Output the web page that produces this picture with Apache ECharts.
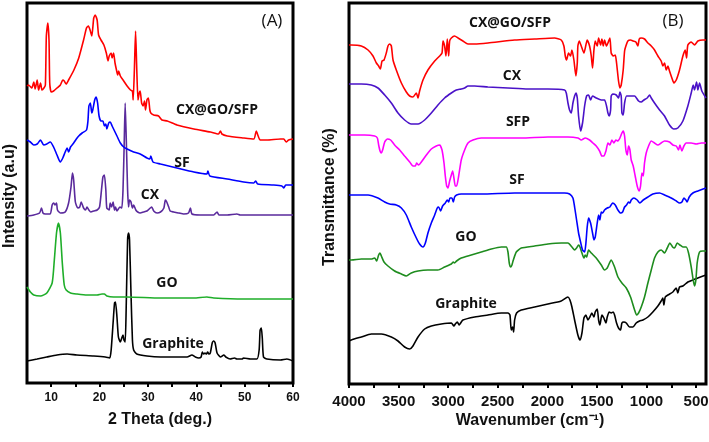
<!DOCTYPE html>
<html>
<head>
<meta charset="utf-8">
<script src="https://cdn.jsdelivr.net/npm/echarts@6/dist/echarts.min.js"></script>
<style>html,body{margin:0;padding:0;background:#fff;}#c{width:709px;height:442px;}</style>
</head>
<body>
<div id="c"></div>
<script>
// ---------- Panel A: XRD (2 theta in deg, intensity in a.u.) ----------
const thetaLabels = [10, 20, 30, 40, 50, 60];
const thetaTicks = [10, 15, 20, 25, 30, 35, 40, 45, 50, 55, 60];

const xrdCXGOSFP = [[5,297],[5.3,298],[6.0,295],[6.4,301],[6.7,294],[7.1,303],[7.4,293],[7.8,300],[8.1,293],[8.5,295],[8.8,298],[9.0,347],[9.3,360],[9.55,343],[9.7,300],[10.0,291],[10.5,292],[11.2,295],[11.9,298],[12.4,303],[12.7,302],[13.1,299],[13.6,303],[14.7,313],[15.7,325],[16.7,343],[17.3,355],[17.7,357],[18.1,352],[18.4,347],[18.8,365],[19.1,368],[19.5,363],[19.8,348],[20.3,343],[20.9,338],[21.4,330],[21.75,322],[22.0,327],[22.4,330],[22.6,325],[22.9,330],[23.2,320],[23.5,313],[23.75,308],[23.95,312],[24.3,307],[25.0,302],[25.7,297],[26.4,293],[26.8,292],[26.95,283],[27.2,313],[27.45,352],[27.7,313],[27.95,283],[28.2,290],[28.4,292],[28.7,280],[29.0,277],[29.3,282],[29.5,273],[29.8,283],[30.1,285],[30.4,273],[30.6,270],[31.2,268],[32.2,267],[32.9,263],[34.0,262],[36.0,258],[39.5,254],[42.9,251],[44.6,249],[45.0,252],[45.3,249],[46.4,247],[49.8,245],[51.9,244],[52.4,252],[52.8,247],[53.2,243],[54.6,243],[57.4,244],[58.1,244],[58.6,241],[59.1,243],[60,244]];

const xrdSF = [[5.0,243],[5.7,241],[6.4,238],[7.1,239],[7.8,243],[8.45,238],[9.1,239],[9.8,241],[10.5,236],[11.2,228],[11.9,221],[12.4,225],[12.9,231],[13.3,235],[13.6,231],[14.0,236],[14.65,240],[15.2,244],[15.7,247],[16.4,250],[17.3,253],[17.6,262],[17.8,277],[18.1,280],[18.4,270],[18.6,273],[19.0,283],[19.3,286],[19.6,280],[19.9,267],[20.3,262],[20.7,262],[21.0,257],[21.3,259],[21.5,254],[21.9,260],[22.2,261],[22.6,257],[23.1,252],[23.6,247],[24.3,240],[25.0,236],[25.7,234],[27.05,231],[28.4,229],[29.8,225],[30.4,224],[30.6,227],[31.05,221],[32.6,219],[36.0,215],[39.5,211],[42.2,209],[42.4,212],[42.8,207],[46.4,204],[49.8,201],[51.9,200],[52.3,202],[52.7,199],[56.0,198],[57.7,197],[58.1,195],[58.5,198],[60,198]];

const xrdCX = [[5.0,167],[6.4,168],[7.6,170],[8.0,175],[8.3,170],[8.8,169],[9.8,169],[10.2,178],[10.5,180],[10.8,178],[11.1,180],[11.3,173],[11.9,170],[12.9,171],[13.6,180],[14.1,196],[14.4,210],[14.65,203],[15.0,181],[15.5,175],[15.9,176],[16.2,181],[16.7,175],[17.1,173],[17.4,176],[17.8,173],[18.2,171],[18.8,172],[19.5,173],[20.0,176],[20.4,193],[20.7,206],[21.0,208],[21.3,193],[21.5,175],[22.0,173],[22.2,180],[22.5,176],[22.8,181],[23.1,173],[23.3,176],[23.6,172],[24.2,176],[24.6,175],[24.85,193],[25.1,240],[25.3,280],[25.6,230],[25.8,193],[26.0,176],[26.2,183],[26.5,181],[26.8,175],[27.05,178],[27.5,173],[27.9,171],[28.4,170],[29.1,171],[29.8,172],[30.5,175],[30.8,176],[31.2,172],[31.9,170],[32.6,171],[33.3,175],[33.6,183],[33.9,181],[34.3,176],[34.6,172],[35.3,171],[36.4,170],[37.4,169],[38.4,170],[38.8,175],[39.1,169],[40.8,168],[43.6,168],[44.3,171],[44.7,168],[46.4,168],[48.4,169],[49.1,168],[51.9,168],[54.6,168],[60,168]];

const xrdGO = [[5.0,96],[5.7,91],[6.4,88],[7.8,87],[9.1,90],[10.2,100],[10.65,123],[11.1,150],[11.5,160],[11.9,150],[12.3,120],[12.7,98],[13.1,93],[14.0,90],[15.3,89],[17.4,88],[19.5,88],[20.5,89],[21.0,89],[21.5,87],[22.9,86],[25.7,86],[32.6,85],[39.5,85],[42.2,86],[43.6,85],[49.8,84],[60,84]];

const xrdGraphite = [[5.0,22],[7.1,24],[9.1,26],[11.2,28],[13.3,29],[15.3,28],[18.8,27],[21.2,26],[22.1,25],[22.4,33],[22.8,60],[23.1,80],[23.3,81],[23.6,66],[23.9,46],[24.3,41],[24.6,45],[24.85,48],[25.05,43],[25.3,41],[25.5,73],[25.8,143],[26.0,150],[26.2,143],[26.5,90],[26.8,43],[27.05,33],[27.7,29],[29.8,27],[32.6,26],[35.3,26],[38.1,26],[39.1,28],[39.8,26],[40.5,25],[41.0,26],[41.25,31],[41.5,29],[41.8,30],[42.1,29],[42.35,31],[42.6,29],[42.9,30],[43.3,40],[43.6,42],[43.9,40],[44.3,30],[45.0,26],[45.7,28],[46.1,26],[47.0,24],[47.9,25],[48.4,24],[49.45,24],[49.8,25],[51.2,24],[52.55,24],[53.0,33],[53.2,53],[53.45,55],[53.65,45],[53.9,26],[54.6,24],[57.4,23],[58.75,24],[60,22]];

// ---------- Panel B: FTIR (wavenumber in cm-1, transmittance offset a.u.) ----------
const waveLabels = [4000, 3500, 3000, 2500, 2000, 1500, 1000, 500];
const waveTicks = [4000, 3750, 3500, 3250, 3000, 2750, 2500, 2250, 2000, 1750, 1500, 1250, 1000, 750, 500];

const ftirCXGOSFP = [[4000,339],[3976,339],[3876,338],[3808,334],[3758,328],[3724,321],[3701,318],[3684,315],[3667,323],[3647,324],[3624,331],[3607,338],[3590,340],[3573,338],[3556,324],[3523,314],[3472,301],[3422,292],[3388,288],[3355,287],[3321,291],[3304,286],[3288,293],[3254,304],[3204,314],[3136,323],[3086,328],[3062,331],[3052,343],[3036,338],[3022,328],[3009,345],[2995,328],[2985,343],[2968,346],[2935,348],[2901,346],[2851,343],[2800,340],[2733,340],[2599,341],[2330,344],[2128,345],[1927,346],[1860,344],[1833,338],[1819,328],[1806,324],[1786,331],[1766,328],[1752,334],[1732,324],[1712,308],[1698,321],[1692,338],[1678,343],[1658,338],[1631,331],[1611,339],[1598,344],[1574,338],[1557,328],[1544,316],[1530,334],[1517,343],[1497,338],[1483,346],[1463,339],[1450,345],[1436,338],[1423,344],[1403,338],[1389,341],[1369,346],[1356,331],[1335,328],[1315,329],[1302,321],[1282,303],[1268,296],[1255,299],[1235,314],[1221,333],[1208,338],[1188,343],[1161,344],[1134,343],[1107,342],[1087,338],[1073,345],[1053,346],[1020,345],[986,341],[952,338],[919,334],[885,328],[852,323],[835,318],[818,321],[801,314],[784,318],[768,313],[744,306],[724,301],[700,304],[667,314],[633,328],[610,334],[596,326],[583,339],[549,342],[516,339],[482,343],[432,344],[400,344]];

const ftirCX = [[4000,300],[3976,300],[3876,300],[3775,299],[3708,296],[3640,289],[3573,281],[3506,271],[3439,264],[3372,260],[3304,260],[3237,264],[3170,271],[3103,279],[3036,286],[2968,291],[2918,294],[2868,295],[2834,296],[2800,298],[2733,298],[2599,297],[2397,296],[2196,295],[1994,295],[1826,294],[1809,291],[1792,281],[1776,274],[1759,271],[1742,281],[1725,288],[1712,291],[1698,286],[1685,268],[1665,253],[1645,261],[1624,278],[1604,288],[1584,289],[1564,284],[1544,288],[1507,286],[1456,284],[1423,284],[1403,278],[1389,271],[1376,268],[1362,274],[1356,288],[1339,290],[1305,289],[1282,286],[1268,292],[1255,288],[1248,271],[1235,269],[1221,281],[1201,288],[1171,288],[1120,288],[1080,283],[1053,282],[1026,284],[993,286],[969,289],[952,286],[919,281],[868,274],[818,268],[768,259],[724,255],[684,256],[633,263],[583,278],[549,291],[529,299],[516,294],[495,302],[482,294],[465,301],[442,293],[400,286]];

const ftirSFP = [[4000,249],[3976,249],[3842,249],[3741,248],[3714,246],[3701,239],[3687,233],[3674,231],[3661,234],[3640,242],[3614,245],[3580,244],[3540,239],[3489,234],[3439,228],[3388,222],[3355,218],[3331,218],[3318,221],[3298,219],[3271,222],[3220,229],[3170,235],[3120,238],[3086,239],[3062,234],[3042,221],[3029,208],[3015,198],[3002,196],[2985,203],[2968,209],[2955,213],[2942,206],[2928,198],[2915,198],[2894,208],[2868,224],[2834,234],[2800,241],[2750,244],[2666,246],[2498,246],[2263,246],[1994,247],[1792,247],[1692,246],[1658,244],[1618,246],[1574,244],[1540,241],[1507,238],[1473,233],[1450,228],[1430,228],[1409,233],[1389,241],[1369,239],[1349,244],[1329,241],[1309,244],[1288,243],[1268,246],[1248,251],[1235,253],[1221,248],[1208,234],[1194,229],[1181,238],[1167,234],[1154,224],[1134,218],[1114,208],[1094,198],[1073,193],[1060,198],[1046,211],[1033,208],[1020,221],[1003,231],[979,238],[952,243],[919,241],[885,239],[852,241],[818,243],[768,242],[734,239],[700,238],[677,234],[663,239],[643,233],[623,238],[600,241],[549,241],[499,240],[448,241],[400,241]];

const ftirSF = [[4000,189],[3976,189],[3808,189],[3708,186],[3640,182],[3590,180],[3523,179],[3472,176],[3422,169],[3372,157],[3321,146],[3288,140],[3254,137],[3230,141],[3204,151],[3170,161],[3136,169],[3110,176],[3096,177],[3076,173],[3056,178],[3029,181],[3009,184],[2995,182],[2982,186],[2962,186],[2948,182],[2935,187],[2915,189],[2868,190],[2666,190],[2330,191],[1994,191],[1826,191],[1776,190],[1742,186],[1725,177],[1705,164],[1685,151],[1665,142],[1645,134],[1624,132],[1611,141],[1598,157],[1584,166],[1564,161],[1544,151],[1530,144],[1517,147],[1497,161],[1483,169],[1470,164],[1456,172],[1443,171],[1423,174],[1396,176],[1369,177],[1342,181],[1315,179],[1288,174],[1262,171],[1241,172],[1221,177],[1201,179],[1181,182],[1167,181],[1154,184],[1127,186],[1094,184],[1067,181],[1033,184],[986,187],[936,190],[868,191],[818,189],[751,186],[700,183],[667,181],[643,182],[623,186],[603,184],[590,182],[569,187],[532,191],[482,193],[400,196]];

const ftirGO = [[4000,124],[3976,124],[3876,125],[3775,125],[3741,126],[3721,123],[3701,129],[3687,131],[3674,128],[3647,122],[3607,118],[3540,113],[3472,110],[3422,108],[3372,111],[3304,113],[3204,114],[3103,114],[3036,117],[2968,120],[2948,122],[2935,121],[2915,123],[2868,126],[2767,129],[2666,132],[2565,135],[2464,137],[2414,137],[2397,132],[2384,121],[2370,117],[2357,119],[2343,124],[2313,132],[2263,136],[2128,138],[1994,140],[1860,141],[1792,141],[1752,137],[1725,134],[1705,136],[1685,139],[1671,137],[1651,131],[1631,126],[1618,129],[1604,127],[1584,134],[1557,131],[1507,126],[1456,119],[1423,114],[1396,116],[1356,124],[1322,117],[1288,107],[1248,101],[1204,96],[1161,87],[1120,74],[1100,69],[1080,71],[1053,77],[1020,87],[986,101],[952,114],[919,126],[885,132],[852,134],[818,131],[791,136],[764,141],[737,137],[717,136],[690,141],[663,139],[633,137],[600,137],[576,131],[549,117],[529,104],[516,98],[502,104],[489,121],[465,132],[432,133],[400,133]];

const ftirGraphite = [[4000,43],[3976,44],[3876,47],[3775,50],[3674,50],[3573,47],[3506,43],[3439,37],[3388,35],[3355,38],[3304,47],[3237,55],[3170,58],[3069,60],[2968,61],[2942,58],[2928,60],[2908,62],[2888,59],[2874,61],[2851,64],[2733,67],[2599,69],[2464,71],[2397,71],[2377,69],[2364,54],[2350,57],[2340,52],[2330,64],[2310,71],[2263,74],[2128,77],[1994,80],[1860,83],[1792,87],[1772,84],[1752,77],[1725,64],[1692,49],[1671,44],[1651,51],[1631,66],[1611,69],[1591,64],[1571,67],[1551,71],[1530,67],[1517,72],[1497,75],[1483,64],[1470,59],[1450,69],[1430,66],[1409,61],[1396,67],[1376,72],[1356,71],[1335,72],[1322,69],[1302,61],[1282,56],[1262,54],[1248,61],[1228,62],[1204,61],[1171,57],[1137,57],[1104,61],[1070,63],[1036,64],[986,67],[936,72],[885,78],[852,83],[835,86],[825,79],[811,87],[784,89],[734,92],[700,96],[684,91],[667,97],[633,98],[583,102],[532,104],[482,106],[400,109]];

// ---------- chart ----------
const chart = echarts.init(document.getElementById('c'), null, {renderer: 'canvas'});

function line(data, color, gi, width) {
  return {
    type: 'line', data: data, xAxisIndex: gi, yAxisIndex: gi,
    showSymbol: false, symbol: 'none', smooth: 0.2,
    lineStyle: {color: color, width: width || 1.6},
    animation: false, silent: true
  };
}

const plain = function (v) { return String(v); };
const tickLabelA = {fontFamily: 'Liberation Sans, Arial, sans-serif', fontWeight: 'bold', fontSize: 12, color: '#111', formatter: plain};
const tickLabelB = {fontFamily: 'Liberation Sans, Arial, sans-serif', fontWeight: 'bold', fontSize: 15, color: '#111', formatter: plain};
const lblFont = 'bold 14px "Open Sans", "Noto Sans", sans-serif';

function txt(x, y, text, font, rot) {
  return {
    type: 'text', x: x, y: y, rotation: rot || 0, silent: true,
    style: {text: text, font: font, fill: '#111', align: 'center', verticalAlign: 'middle', textAlign: 'center', textVerticalAlign: 'middle'}
  };
}

chart.setOption({
  backgroundColor: '#fff',
  animation: false,
  grid: [
    {left: 27, top: 3, width: 266, height: 380, show: true, borderColor: '#000', borderWidth: 3, backgroundColor: 'transparent', containLabel: false, outerBoundsMode: 'none'},
    {left: 349, top: 3, width: 357, height: 381, show: true, borderColor: '#000', borderWidth: 3, backgroundColor: 'transparent', containLabel: false, outerBoundsMode: 'none'}
  ],
  xAxis: [
    {
      type: 'value', gridIndex: 0, min: 5, max: 60,
      axisLine: {show: false},
      splitLine: {show: false},
      axisTick: {show: true, inside: false, length: 4, lineStyle: {color: '#000', width: 2}, customValues: thetaTicks},
      axisLabel: Object.assign({margin: 9, customValues: thetaLabels, hideOverlap: false}, tickLabelA)
    },
    {
      type: 'value', gridIndex: 1, min: 400, max: 4000, inverse: true,
      axisLine: {show: false},
      splitLine: {show: false},
      axisTick: {show: true, inside: false, length: 4, lineStyle: {color: '#000', width: 2}, customValues: waveTicks},
      axisLabel: Object.assign({margin: 10, customValues: waveLabels, hideOverlap: false, showMinLabel: true, showMaxLabel: true}, tickLabelB)
    }
  ],
  yAxis: [
    {type: 'value', gridIndex: 0, min: 0, max: 380, show: false, splitLine: {show: false}},
    {type: 'value', gridIndex: 1, min: 0, max: 381, show: false, splitLine: {show: false}}
  ],
  series: [
    line(xrdGraphite, '#000000', 0),
    line(xrdGO, '#1fae2a', 0),
    line(xrdCX, '#5a2a9c', 0),
    line(xrdSF, '#0000ff', 0),
    line(xrdCXGOSFP, '#ff0000', 0),
    line(ftirGraphite, '#000000', 1),
    line(ftirGO, '#1e8c1e', 1),
    line(ftirSF, '#0000ff', 1),
    line(ftirSFP, '#ff00ff', 1),
    line(ftirCX, '#4a12c8', 1),
    line(ftirCXGOSFP, '#ff0000', 1)
  ],
  graphic: [
    txt(272, 21, '(A)', '17px "Open Sans", "Noto Sans", sans-serif'),
    txt(217, 110, 'CX@GO/SFP', lblFont),
    txt(182, 163, 'SF', lblFont),
    txt(150, 195, 'CX', lblFont),
    txt(167, 283, 'GO', lblFont),
    txt(173, 344, 'Graphite', lblFont),
    txt(673, 21, '(B)', '17px "Open Sans", "Noto Sans", sans-serif'),
    txt(510, 23, 'CX@GO/SFP', lblFont),
    txt(512, 76, 'CX', lblFont),
    txt(518, 122, 'SFP', lblFont),
    txt(517, 180, 'SF', lblFont),
    txt(466, 237, 'GO', lblFont),
    txt(466, 304, 'Graphite', lblFont),
    txt(160, 420, '2 Theta (deg.)', 'bold 16px "Liberation Sans", Arial, sans-serif'),
    txt(530, 421, 'Wavenumber (cm⁻¹)', 'bold 16px "Liberation Sans", Arial, sans-serif'),
    txt(10, 196, 'Intensity (a.u)', 'bold 16px "Liberation Sans", Arial, sans-serif', Math.PI / 2),
    txt(330, 197, 'Transmittance (%)', 'bold 16px "Liberation Sans", Arial, sans-serif', Math.PI / 2)
  ]
});
</script>
</body>
</html>
